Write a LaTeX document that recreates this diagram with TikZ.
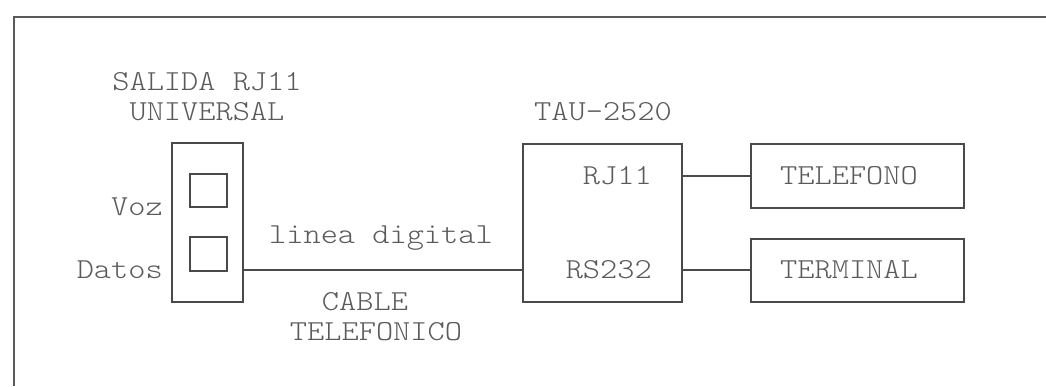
\documentclass[tikz,border=0pt]{standalone}
\usepackage{fontspec}
\newfontfamily\lightmono[FakeStretch=1.13]{Latin Modern Mono Light}
\usepackage{tikz}
\usetikzlibrary{positioning, calc}
\definecolor{inkline}{HTML}{4A4A4A}
\definecolor{inktext}{HTML}{5A5A5A}

\begin{document}
\begin{tikzpicture}[x=1pt, y=-1pt,
    font=\lightmono\fontsize{29}{31}\selectfont,
    box/.style={draw=inkline, line width=1.8pt, inner sep=0pt},
    lbl/.style={text=inktext, inner sep=0pt},
    wire/.style={draw=inkline, line width=1.8pt}]

\useasboundingbox (0,0) rectangle (1046,386);

% ── frame ────────────────────────────────────────────────────────
\draw[draw=inktext, line width=2.4pt] (14,386) -- (14,17) -- (1046,17);

% ── RJ11 outlet ──────────────────────────────────────────────────
\node[box, minimum width=71pt, minimum height=159pt] (salida) at (207.5,222.5) {};
\node[box, line width=1.6pt, minimum width=37pt, minimum height=33pt] (voz) at (208.5,190.5) {};
\node[box, line width=1.6pt, minimum width=37pt, minimum height=34pt] (datos) at (208.5,254) {};
\node[lbl] (salidaA) at (207,82) {SALIDA RJ11};
\node[lbl] (salidaB) at (207,112) {UNIVERSAL};
\node[lbl, anchor=east] (vozlbl) at (163,207) {Voz};
\node[lbl, anchor=east] (datoslbl) at (163,270) {Datos};

% ── TAU-2520 ─────────────────────────────────────────────────────
\node[box, minimum width=159pt, minimum height=158pt] (tau) at (602.5,223) {};
\node[lbl] (taulbl) at (603,112) {TAU-2520};
\node[lbl, anchor=east] (rj) at (652,176) {RJ11};
\node[lbl, anchor=east] (rs) at (652,270) {RS232};

% ── terminals ────────────────────────────────────────────────────
\node[box, minimum width=213pt, minimum height=64pt] (telefono) at (857.5,176) {};
\node[box, minimum width=213pt, minimum height=63pt] (terminal) at (857.5,270.5) {};
\node[lbl] (tellbl) at (849,176) {TELEFONO};
\node[lbl] (termlbl) at (849,270) {TERMINAL};

% ── cable ────────────────────────────────────────────────────────
\draw[wire] (salida.east |- rs) -- (tau.west |- rs);
\node[lbl] (linea) at (381,238) {linea digital};
\node[lbl] (cableA) at (365,302) {CABLE};
\node[lbl] (cableB) at (376,332) {TELEFONICO};

\draw[wire] (tau.east |- rj) -- (telefono.west |- rj);
\draw[wire] (tau.east |- rs) -- (terminal.west |- rs);

\end{tikzpicture}
\end{document}
